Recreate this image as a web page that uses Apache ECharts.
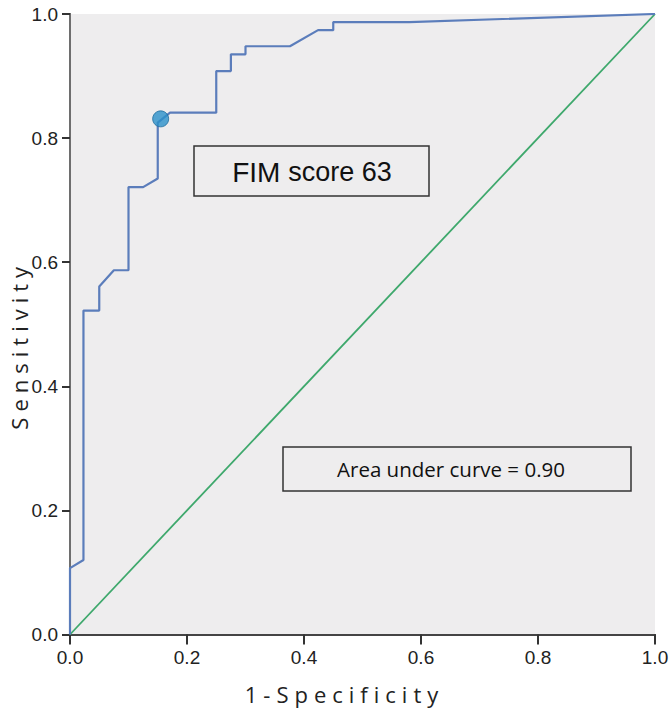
<!DOCTYPE html>
<html>
<head>
<meta charset="utf-8">
<script src="https://cdn.jsdelivr.net/npm/echarts@6/dist/echarts.min.js"></script>
<style>
  html, body { margin: 0; padding: 0; background: #ffffff; }
  #chart { width: 671px; height: 711px; }
  /* letter-spaced axis titles */
  text[style*="Lato"] { letter-spacing: 6px; }
</style>
</head>
<body>
<div id="chart"></div>
<script>
// ROC curve: 1-Specificity (false positive rate) vs Sensitivity
const fprValues = [0, 0, 0.023, 0.023, 0.050, 0.050, 0.075, 0.100, 0.100, 0.125, 0.150, 0.150, 0.171, 0.250, 0.250, 0.275, 0.275, 0.300, 0.300, 0.376, 0.424, 0.450, 0.450, 0.580, 1.0];
const tprValues = [0, 0.107, 0.120, 0.522, 0.522, 0.561, 0.587, 0.587, 0.721, 0.721, 0.735, 0.825, 0.841, 0.841, 0.908, 0.908, 0.935, 0.935, 0.948, 0.948, 0.974, 0.974, 0.987, 0.987, 1.0];
const referenceFpr = [0, 1];
const referenceTpr = [0, 1];
const cutoffPoint = [0.155, 0.831];
const tickValues = ['0.0', '0.2', '0.4', '0.6', '0.8', '1.0'];
const cutoffLabel = ['FIM', 'score 63'];
const aucLabel = 'Area under curve = 0.90';
const xTitle = '1-Specificity';
const yTitle = 'Sensitivity';

const rocData = fprValues.map((x, i) => [x, tprValues[i]]);
const refData = referenceFpr.map((x, i) => [x, referenceTpr[i]]);

const chart = echarts.init(document.getElementById('chart'), null, { renderer: 'svg' });

const tickLabelStyle = {
  fontFamily: 'Liberation Sans Narrow, Liberation Sans',
  fontSize: 19,
  color: '#222222',
  formatter: v => tickValues[Math.round(v * 5)]
};

chart.setOption({
  animation: false,
  backgroundColor: '#ffffff',
  grid: {
    left: 70, right: 16, top: 14, bottom: 76.5,
    outerBoundsMode: 'none',
    containLabel: false,
    show: true, backgroundColor: '#eeedee', borderWidth: 0
  },
  xAxis: [{
    type: 'value', min: 0, max: 1, interval: 0.2,
    position: 'bottom',
    splitLine: { show: false },
    axisLine: { lineStyle: { color: '#222222', width: 2 } },
    axisTick: { length: 10, lineStyle: { color: '#333333', width: 2 } },
    axisLabel: Object.assign({ margin: 13 }, tickLabelStyle),
    name: xTitle,
    nameLocation: 'middle',
    nameGap: 48,
    nameMoveOverlap: false,
    nameTextStyle: {
      fontFamily: 'Open Sans, Lato', fontSize: 22, color: '#222222',
      padding: [0, 36, 0, 0]
    }
  }, {
    type: 'value', min: 0, max: 1, position: 'top',
    axisLine: { show: true, lineStyle: { color: '#444444', width: 2 } },
    axisTick: { show: false }, axisLabel: { show: false }, splitLine: { show: false }
  }],
  yAxis: [{
    type: 'value', min: 0, max: 1, interval: 0.2,
    position: 'left',
    splitLine: { show: false },
    axisLine: { show: true, lineStyle: { color: '#222222', width: 2 } },
    axisTick: { show: true, length: 8, lineStyle: { color: '#333333', width: 2 } },
    axisLabel: Object.assign({ margin: 12 }, tickLabelStyle),
    name: yTitle,
    nameLocation: 'middle',
    nameGap: 40,
    nameMoveOverlap: false,
    nameRotate: 90,
    nameTextStyle: {
      fontFamily: 'Open Sans, Lato', fontSize: 22, color: '#222222',
      padding: [0, 42, 0, 0]
    }
  }, {
    type: 'value', min: 0, max: 1, position: 'right',
    axisLine: { show: true, lineStyle: { color: '#888888', width: 1.5 } },
    axisTick: { show: false }, axisLabel: { show: false }, splitLine: { show: false }
  }],
  series: [{
    name: 'Reference',
    type: 'line',
    data: refData,
    showSymbol: false,
    symbol: 'none',
    lineStyle: { color: '#3ea86c', width: 1.8 },
    z: 2
  }, {
    name: 'ROC',
    type: 'line',
    data: rocData,
    showSymbol: false,
    symbol: 'none',
    lineStyle: { color: '#5b7dbb', width: 2.2 },
    z: 3
  }, {
    name: 'Cutoff',
    type: 'scatter',
    data: [cutoffPoint],
    symbolSize: 16,
    itemStyle: { color: '#2b90c9', borderColor: '#1d6d9e', borderWidth: 1 },
    z: 4
  }],
  graphic: [{
    type: 'rect',
    shape: { x: 194, y: 146, width: 235, height: 50 },
    style: { fill: '#eeedee', stroke: '#333333', lineWidth: 1.5 },
    z: 10
  }, {
    type: 'text',
    x: 312, y: 172,
    style: {
      text: '{a|' + cutoffLabel[0] + ' }{b|' + cutoffLabel[1] + '}',
      align: 'center', verticalAlign: 'middle',
      rich: {
        a: { fontFamily: 'Liberation Sans', fontSize: 28, fill: '#111111' },
        b: { fontFamily: 'Liberation Sans', fontSize: 27, fill: '#111111' }
      }
    },
    z: 11
  }, {
    type: 'rect',
    shape: { x: 283, y: 447, width: 348, height: 44 },
    style: { fill: '#eeedee', stroke: '#333333', lineWidth: 1.5 },
    z: 10
  }, {
    type: 'text',
    x: 451, y: 469,
    style: {
      text: aucLabel,
      align: 'center', verticalAlign: 'middle',
      fontFamily: 'Open Sans', fontSize: 20.5, fill: '#111111'
    },
    z: 11
  }]
});
</script>
</body>
</html>
